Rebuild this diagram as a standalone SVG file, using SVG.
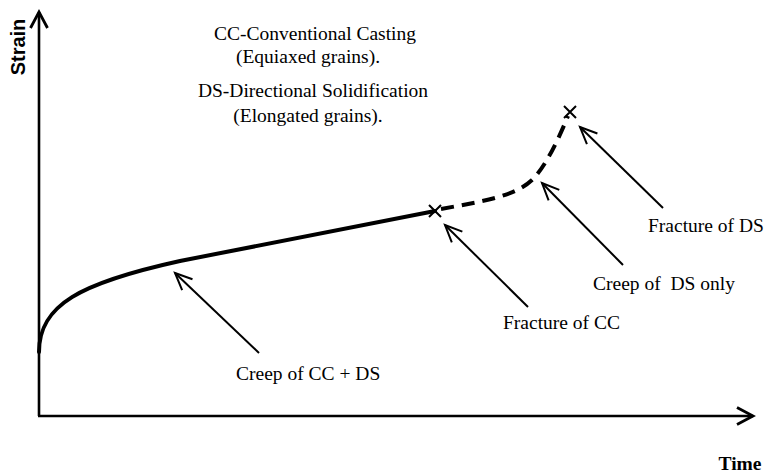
<svg xmlns="http://www.w3.org/2000/svg" width="765" height="475" viewBox="0 0 765 475">
<defs>
<style>
.t{font-family:"Liberation Serif","Times New Roman",serif;font-size:19.5px;fill:#000;}
.ax{stroke:#000;stroke-width:2.6;fill:none;}
.ptr{stroke:#000;stroke-width:2;fill:none;}
.curve{stroke:#000;stroke-width:4;fill:none;stroke-linecap:round;}
.dash{stroke:#000;stroke-width:4;fill:none;stroke-dasharray:13 8;}
.xm{stroke:#000;stroke-width:2;fill:none;}
</style>
<marker id="open" markerUnits="userSpaceOnUse" markerWidth="40" markerHeight="40" refX="0" refY="0" viewBox="-20 -20 40 40" orient="auto" overflow="visible">
<path d="M-17,-7.5 L0,0 L-17,7.5" stroke="#000" stroke-width="2" fill="none" stroke-linejoin="miter"/>
</marker>
<marker id="axhead" markerUnits="userSpaceOnUse" markerWidth="40" markerHeight="40" refX="0" refY="0" viewBox="-20 -20 40 40" orient="auto" overflow="visible">
<path d="M-16,-8.5 L0,0 L-16,8.5" stroke="#000" stroke-width="2.8" fill="none"/>
</marker>
</defs>
<rect width="765" height="475" fill="#fff"/>

<g id="axes">
<path class="ax" d="M39,416 L39,12" marker-end="url(#axhead)"/>
<path class="ax" d="M38,416 L753,416" marker-end="url(#axhead)"/>
<text x="25" y="47" transform="rotate(-90 25 47)" text-anchor="middle" font-family="Liberation Sans, Arial, sans-serif" font-weight="bold" font-size="20">Strain</text>
<text class="t" x="740" y="470" text-anchor="middle" font-weight="bold" font-size="18">Time</text>
</g>

<g id="legend">
<text class="t" x="315" y="40" text-anchor="middle">CC-Conventional Casting</text>
<text class="t" x="308" y="63" text-anchor="middle">(Equiaxed grains).</text>
<text class="t" x="313" y="97" text-anchor="middle">DS-Directional Solidification</text>
<text class="t" x="308" y="122" text-anchor="middle">(Elongated grains).</text>
</g>

<g id="curve-cc-ds">
<path class="curve" d="M39,352 C39,305 80,283 180,261 Q310,236 435,211"/>
</g>
<g id="curve-ds-only">
<path class="dash" d="M441,209 C485,201 515,196 532,180 C546,166 558,140 568,116"/>
</g>
<g id="fracture-cc-mark">
<path class="xm" d="M429,205 L441,217 M441,205 L429,217"/>
</g>
<g id="fracture-ds-mark">
<path class="xm" d="M564,106 L576,118 M576,106 L564,118"/>
</g>

<g id="connectors">
<line class="ptr" x1="259" y1="353" x2="175" y2="273" marker-end="url(#open)"/>
<line class="ptr" x1="528" y1="307" x2="445" y2="225" marker-end="url(#open)"/>
<line class="ptr" x1="623" y1="265" x2="542" y2="183" marker-end="url(#open)"/>
<line class="ptr" x1="663" y1="208" x2="580" y2="127" marker-end="url(#open)"/>
</g>

<g id="label-creep-cc-ds"><text class="t" x="236" y="380">Creep of CC + DS</text></g>
<g id="label-fracture-cc"><text class="t" x="503" y="329">Fracture of CC</text></g>
<g id="label-creep-ds"><text class="t" x="593" y="290" xml:space="preserve">Creep of  DS only</text></g>
<g id="label-fracture-ds"><text class="t" x="648" y="232">Fracture of DS</text></g>
</svg>
